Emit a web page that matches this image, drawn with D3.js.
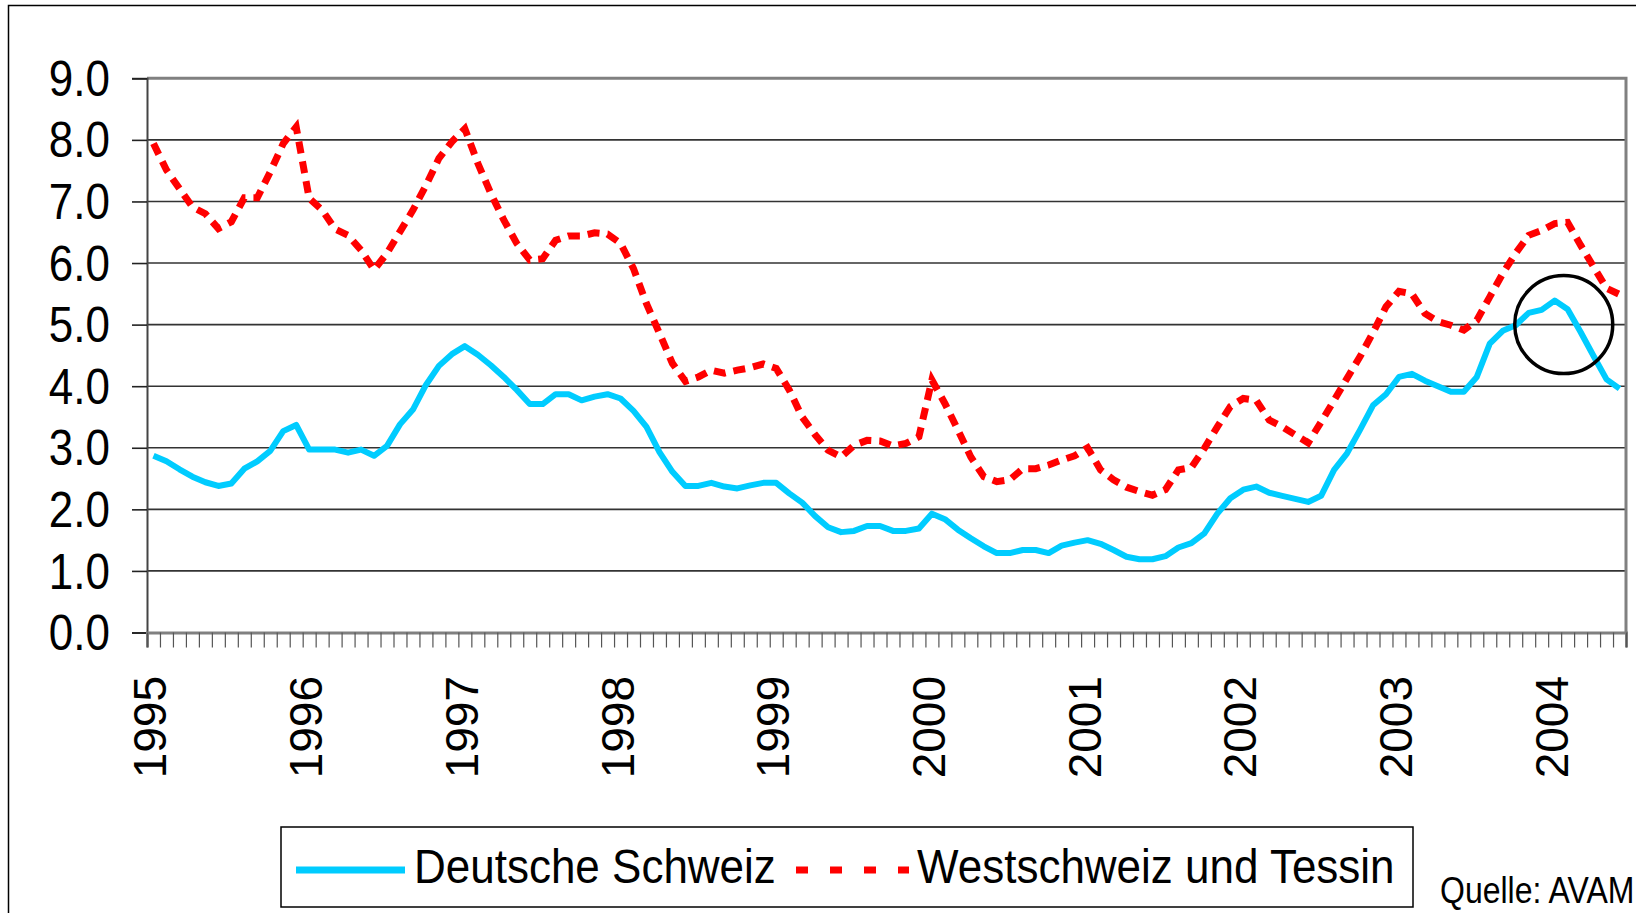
<!DOCTYPE html>
<html>
<head>
<meta charset="utf-8">
<script src="https://cdn.jsdelivr.net/npm/d3@7"></script>
<style>
  body { margin: 0; background: #fff; }
  svg { display: block; font-family: "Liberation Sans", Arial, sans-serif; }
</style>
</head>
<body>
<svg width="1636" height="913"></svg>
<script>
// tick labels
var years = ["1995", "1996", "1997", "1998", "1999", "2000", "2001", "2002", "2003", "2004"];
var yTicks = [0, 1, 2, 3, 4, 5, 6, 7, 8, 9];
var seriesNames = ["Deutsche Schweiz", "Westschweiz und Tessin"];

// monthly values, Jan 1995 - Jun 2004
var deutsche = [
    2.87, 2.78, 2.65, 2.53, 2.44, 2.38, 2.42, 2.66, 2.78, 2.95, 3.27, 3.37,
    2.97, 2.97, 2.97, 2.92, 2.97, 2.87, 3.03, 3.38, 3.62, 4.02, 4.33, 4.52,
    4.65, 4.51, 4.34, 4.15, 3.94, 3.71, 3.71, 3.87, 3.87, 3.77, 3.83, 3.87,
    3.80, 3.60, 3.34, 2.93, 2.61, 2.38, 2.38, 2.43, 2.37, 2.34, 2.39, 2.43,
    2.43, 2.26, 2.11, 1.89, 1.71, 1.63, 1.65, 1.73, 1.73, 1.65, 1.65, 1.69,
    1.93, 1.84, 1.67, 1.53, 1.40, 1.29, 1.29, 1.34, 1.34, 1.29, 1.41, 1.46,
    1.50, 1.44, 1.34, 1.23, 1.19, 1.19, 1.24, 1.38, 1.45, 1.61, 1.93, 2.18,
    2.32, 2.37, 2.27, 2.22, 2.17, 2.12, 2.22, 2.64, 2.91, 3.29, 3.69, 3.87,
    4.15, 4.20, 4.09, 4.00, 3.91, 3.91, 4.15, 4.69, 4.90, 4.99, 5.19, 5.24,
    5.39, 5.25, 4.88, 4.49, 4.11, 3.96
];
var westTessin = [
    7.94, 7.51, 7.21, 6.91, 6.80, 6.56, 6.67, 7.06, 7.06, 7.48, 7.94, 8.21,
    7.05, 6.86, 6.55, 6.45, 6.21, 5.89, 6.16, 6.51, 6.86, 7.26, 7.70, 7.97,
    8.18, 7.62, 7.13, 6.70, 6.32, 6.05, 6.07, 6.37, 6.44, 6.44, 6.49, 6.47,
    6.32, 5.91, 5.34, 4.86, 4.37, 4.08, 4.15, 4.26, 4.21, 4.26, 4.30, 4.36,
    4.29, 3.94, 3.50, 3.21, 2.96, 2.85, 3.04, 3.12, 3.11, 3.03, 3.07, 3.18,
    4.10, 3.72, 3.29, 2.85, 2.53, 2.45, 2.48, 2.66, 2.66, 2.72, 2.80, 2.87,
    3.00, 2.64, 2.48, 2.36, 2.29, 2.23, 2.32, 2.64, 2.68, 2.99, 3.34, 3.67,
    3.80, 3.77, 3.45, 3.34, 3.21, 3.08, 3.42, 3.77, 4.13, 4.48, 4.87, 5.29,
    5.54, 5.50, 5.18, 5.05, 4.99, 4.91, 5.07, 5.45, 5.83, 6.16, 6.45, 6.53,
    6.64, 6.66, 6.29, 5.94, 5.59, 5.49
];

// marked spot: month index, value
var highlight = [108.7, 5.0];

// one category per month
var months = [];
years.forEach(function(yr) {
    for (var m = 1; m <= 12; m++) months.push(yr + "-" + (m < 10 ? "0" + m : m));
});
months = months.slice(0, deutsche.length);

var svg = d3.select("svg");

var plotL = 147, plotR = 1626, plotT = 78.3, plotB = 632.5;

var x = d3.scaleLinear().domain([0, months.length]).range([plotL, plotR]);
var y = d3.scaleLinear().domain([0, 9]).range([plotB, plotT]);

// outer chart frame (runs off the picture on the right and bottom)
svg.append("rect")
    .attr("x", 8.5).attr("y", 5.5)
    .attr("width", 1700).attr("height", 1000)
    .attr("fill", "none").attr("stroke", "#000").attr("stroke-width", 1.5);

// gridlines
svg.append("g").selectAll("line")
    .data(yTicks.slice(1, -1))
    .enter().append("line")
    .attr("x1", plotL).attr("x2", plotR)
    .attr("y1", function(d) { return y(d); })
    .attr("y2", function(d) { return y(d); })
    .attr("stroke", "#333").attr("stroke-width", 1.6);

// plot border top + right
svg.append("path")
    .attr("d", "M" + plotL + "," + y(9) + "H" + plotR + "V" + y(0))
    .attr("fill", "none").attr("stroke", "#808080").attr("stroke-width", 3);

// y axis
var yAxis = svg.append("g")
    .attr("transform", "translate(" + plotL + ",0)")
    .call(d3.axisLeft(y).tickValues(yTicks).tickSize(15).tickFormat(""));
yAxis.select(".domain").attr("stroke", "#444").attr("stroke-width", 2);
yAxis.selectAll(".tick line").attr("stroke", "#222").attr("stroke-width", 1.6);

svg.append("g").selectAll("text")
    .data(yTicks)
    .enter().append("text")
    .attr("transform", function(d) { return "translate(110," + y(d) + ") scale(1,1.12)"; })
    .attr("dy", "0.357em")
    .attr("text-anchor", "end")
    .attr("font-size", 44)
    .text(function(d) { return d3.format(".1f")(d); });

// x axis: a tick at every month boundary
var xAxis = svg.append("g")
    .attr("transform", "translate(0," + plotB + ")")
    .call(d3.axisBottom(x).tickValues(d3.range(0, months.length + 1)).tickSize(15).tickFormat(""));
xAxis.select(".domain").attr("stroke", "#808080").attr("stroke-width", 3);
xAxis.selectAll(".tick line").attr("stroke", "#555").attr("stroke-width", 1.2);

svg.append("g").selectAll("text")
    .data(years)
    .enter().append("text")
    .attr("transform", function(d, i) {
        return "translate(" + (x(i * 12 + 0.5) + 13) + ",676) rotate(-90)";
    })
    .attr("text-anchor", "end")
    .attr("font-size", 46)
    .text(function(d) { return d; });

// series, one point in the middle of each month
var line = d3.line()
    .x(function(d, i) { return x(i + 0.5); })
    .y(function(d) { return y(d); });

svg.append("path")
    .datum(deutsche)
    .attr("d", line)
    .attr("fill", "none")
    .attr("stroke", "#00CCFF")
    .attr("stroke-width", 6)
    .attr("stroke-linejoin", "round");

svg.append("path")
    .datum(westTessin)
    .attr("d", line)
    .attr("fill", "none")
    .attr("stroke", "#FF0000")
    .attr("stroke-width", 7)
    .attr("stroke-dasharray", "12,8");

// highlight circle
svg.append("circle")
    .attr("cx", x(highlight[0] + 0.5))
    .attr("cy", y(highlight[1]))
    .attr("r", 49)
    .attr("fill", "none")
    .attr("stroke", "#000")
    .attr("stroke-width", 3.5);

// legend
var legend = svg.append("g");
legend.append("rect")
    .attr("x", 281).attr("y", 827)
    .attr("width", 1132).attr("height", 80)
    .attr("fill", "#fff").attr("stroke", "#000").attr("stroke-width", 1.5);

legend.append("line")
    .attr("x1", 296).attr("x2", 405).attr("y1", 870).attr("y2", 870)
    .attr("stroke", "#00CCFF").attr("stroke-width", 7);
legend.append("text")
    .attr("transform", "translate(414,883) scale(1,1.08)")
    .attr("font-size", 44)
    .text(seriesNames[0]);

legend.append("line")
    .attr("x1", 796).attr("x2", 909).attr("y1", 870).attr("y2", 870)
    .attr("stroke", "#FF0000").attr("stroke-width", 7)
    .attr("stroke-dasharray", "12,22");
legend.append("text")
    .attr("transform", "translate(917,883) scale(1,1.08)")
    .attr("font-size", 44)
    .text(seriesNames[1]);

// source
svg.append("text")
    .attr("transform", "translate(1440,903) scale(1,1.15)")
    .attr("font-size", 32)
    .text("Quelle: AVAM");
</script>
</body>
</html>
